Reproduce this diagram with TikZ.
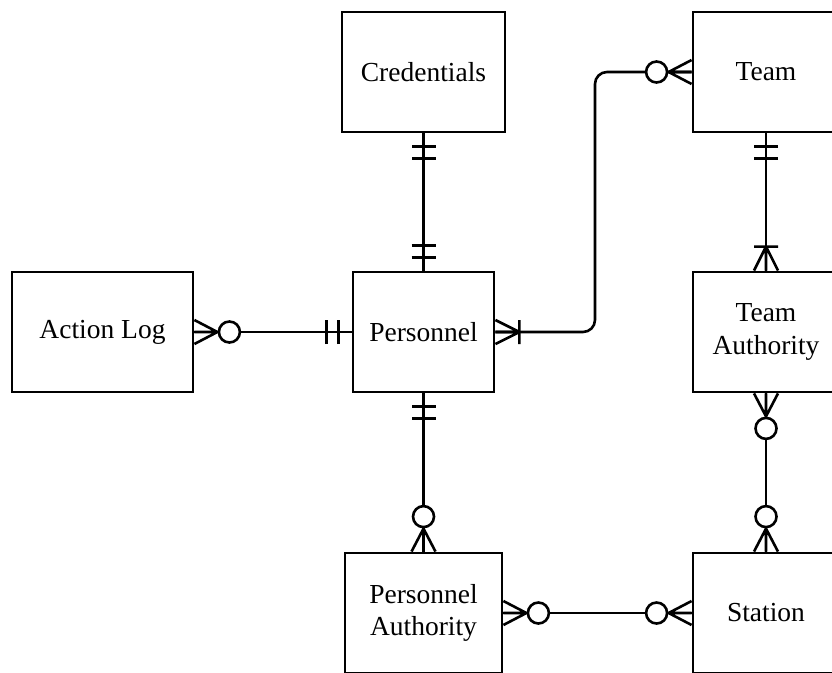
\documentclass[tikz,border=0pt]{standalone}
\usepackage{fontspec}
\setmainfont{Liberation Serif}
\usetikzlibrary{calc}

\tikzset{
  entity/.style={draw, line width=2.8pt, fill=white, minimum height=120pt,
    inner sep=0pt, align=center, font=\fontsize{27.5}{32.5}\selectfont},
  rel/.style={line width=2.6pt},
  % cardinality marks, drawn with the local x axis pointing away from the box
  pics/onlyone/.style={code={
    \draw[rel] (13,-12) -- (13,12) (25,-12) -- (25,12);}},
  pics/onemany/.style={code={
    \draw[rel] (0,-12) -- (24,0) -- (0,12) (0,0) -- (24,0)
               (24,-12) -- (24,12);}},
  pics/zeromany/.style={code={
    \draw[rel] (0,-12) -- (23,0) -- (0,12) (0,0) -- (23,0);
    \draw[rel, fill=white] (35,0) circle (10.5);}},
}

\begin{document}
\begin{tikzpicture}[x=1pt, y=-1pt]
  \clip (0,0) rectangle (832,672);
  \fill[white] (0,0) rectangle (832,672);

  % entities
  \node[entity, minimum width=163pt] (cred)  at (423.5,72)  {Credentials};
  \node[entity, minimum width=146pt] (team)  at (766,72)    {Team};
  \node[entity, minimum width=181pt] (alog)  at (102.5,332) {Action Log};
  \node[entity, minimum width=141pt] (pers)  at (423.5,332) {Personnel};
  \node[entity, minimum width=146pt] (tauth) at (766,332)   {Team\\Authority};
  \node[entity, minimum width=157pt] (pauth) at (423.5,613) {Personnel\\Authority};
  \node[entity, minimum width=146pt] (stat)  at (766,613)   {Station};

  % relationships
  \coordinate (bend) at (595,200);
  \draw[rel] (cred) -- (pers);
  \draw[rel] (alog) -- (pers);
  \draw[rel, rounded corners=12pt] (pers.east) -| (bend) |- (team.west);
  \draw[rel] (team) -- (tauth);
  \draw[rel] (tauth) -- (stat);
  \draw[rel] (pers) -- (pauth);
  \draw[rel] (pauth) -- (stat);

  % cardinality marks
  \pic[rotate=-90] at (cred.south)  {onlyone};
  \pic[rotate=90]  at (pers.north)  {onlyone};
  \pic             at (alog.east)   {zeromany};
  \pic[rotate=180] at (pers.west)   {onlyone};
  \pic             at (pers.east)   {onemany};
  \pic[rotate=180] at (team.west)   {zeromany};
  \pic[rotate=-90] at (team.south)  {onlyone};
  \pic[rotate=90]  at (tauth.north) {onemany};
  \pic[rotate=-90] at (tauth.south) {zeromany};
  \pic[rotate=90]  at (stat.north)  {zeromany};
  \pic[rotate=-90] at (pers.south)  {onlyone};
  \pic[rotate=90]  at (pauth.north) {zeromany};
  \pic             at (pauth.east)  {zeromany};
  \pic[rotate=180] at (stat.west)   {zeromany};
\end{tikzpicture}
\end{document}
